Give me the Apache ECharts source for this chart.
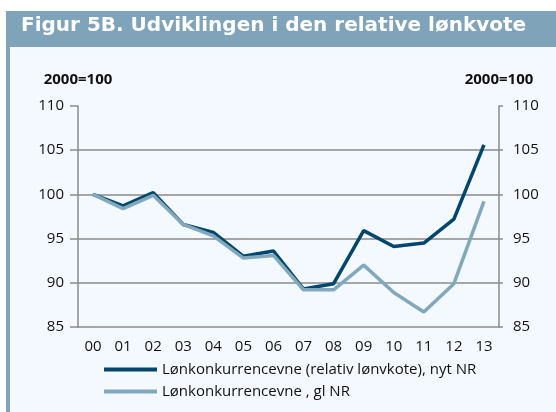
<!DOCTYPE html>
<html>
<head>
<meta charset="utf-8">
<script src="https://cdn.jsdelivr.net/npm/echarts@6/dist/echarts.min.js"></script>
<style>
  html, body { margin: 0; padding: 0; background: #fff; }
  #chart { width: 556px; height: 412px; }
</style>
</head>
<body>
<div id="chart"></div>
<script>
  const years = ['00', '01', '02', '03', '04', '05', '06', '07', '08', '09', '10', '11', '12', '13'];
  const nytNR = [100, 98.7, 100.2, 96.6, 95.7, 93.0, 93.6, 89.3, 89.9, 95.9, 94.1, 94.5, 97.2, 105.6];
  const glNR = [100, 98.4, 99.9, 96.6, 95.3, 92.8, 93.1, 89.2, 89.2, 92.0, 88.9, 86.7, 89.9, 99.2];
  const seriesNames = ['Lønkonkurrencevne (relativ lønvkote), nyt NR', 'Lønkonkurrencevne , gl NR'];

  const font = '"Open Sans", "Noto Sans", sans-serif';
  const axisGray = '#8a8a8a';

  const yAxisBase = {
    type: 'value',
    min: 85,
    max: 110,
    interval: 5,
    name: '2000=100',
    nameLocation: 'end',
    nameGap: 19,
    nameTextStyle: { color: '#111', fontSize: 15, fontWeight: 'bold', fontFamily: font },
    axisLine: { show: true, lineStyle: { color: axisGray, width: 1.5 } },
    axisTick: { show: true, length: 8, lineStyle: { color: axisGray, width: 1.5 } },
    axisLabel: { color: '#111', fontSize: 15, fontFamily: font, margin: 14 },
  };

  const chart = echarts.init(document.getElementById('chart'));
  chart.setOption({
    backgroundColor: '#fff',
    animation: false,
    graphic: [
      { type: 'rect', shape: { x: 6, y: 47, width: 550, height: 365 }, style: { fill: '#f3f9fe' }, z: -10 },
      { type: 'rect', shape: { x: 6, y: 11, width: 550, height: 36 }, style: { fill: '#7fa3b8' }, z: -9 },
      { type: 'rect', shape: { x: 6, y: 11, width: 4, height: 401 }, style: { fill: '#7fa3b8' }, z: -9 },
      {
        type: 'text', left: 21, top: 16, z: 10,
        style: { text: 'Figur 5B. Udviklingen i den relative lønkvote', fill: '#fff', font: 'bold 20px "DejaVu Sans", sans-serif' }
      }
    ],
    grid: { left: 78, right: 57, top: 106, bottom: 85 },
    legend: {
      orient: 'vertical',
      left: 99,
      top: 357,
      itemWidth: 53,
      itemHeight: 4,
      itemGap: 7,
      icon: 'rect',
      textStyle: { color: '#111', fontSize: 15, fontFamily: font },
      data: seriesNames
    },
    xAxis: {
      type: 'category',
      data: years,
      boundaryGap: true,
      axisLine: { lineStyle: { color: axisGray, width: 1.5 } },
      axisTick: { length: 5, lineStyle: { color: axisGray, width: 1.5 } },
      axisLabel: { color: '#111', fontSize: 15, fontFamily: font, margin: 12 },
      splitLine: { show: false }
    },
    yAxis: [
      Object.assign({}, yAxisBase, {
        position: 'left',
        splitLine: { show: true, showMinLine: false, showMaxLine: false, lineStyle: { color: axisGray, width: 1.5 } }
      }),
      Object.assign({}, yAxisBase, {
        position: 'right',
        axisTick: { show: true, length: 4, lineStyle: { color: axisGray, width: 1.5 } },
        splitLine: { show: false }
      })
    ],
    series: [
      {
        name: seriesNames[0],
        type: 'line',
        data: nytNR,
        symbol: 'none',
        color: '#00466f',
        lineStyle: { width: 3.5, color: '#00466f' },
        z: 2
      },
      {
        name: seriesNames[1],
        type: 'line',
        data: glNR,
        symbol: 'none',
        color: '#82a8be',
        lineStyle: { width: 3.5, color: '#82a8be' },
        z: 3
      }
    ]
  });
</script>
</body>
</html>
